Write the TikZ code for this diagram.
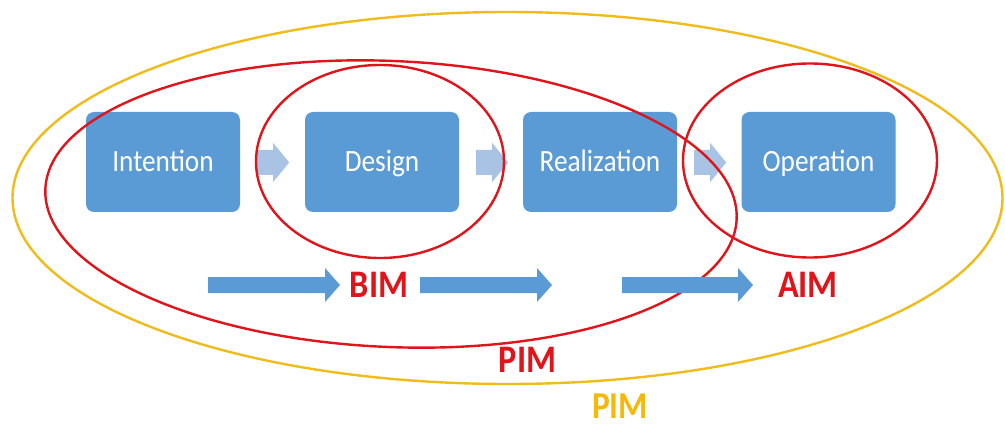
\documentclass[tikz,border=0pt]{standalone}
\usepackage{fontspec}
\usetikzlibrary{calc}
\newfontfamily\boxfont[FakeStretch=0.88]{Carlito}
\definecolor{boxblue}{HTML}{5B9BD5}
\definecolor{lightblue}{HTML}{A9C3E4}
\definecolor{pimred}{HTML}{E0141B}
\definecolor{pimyellow}{HTML}{F0BC1C}
\definecolor{txtyellow}{HTML}{F5B90A}
\newcommand\blkarrow[6]{% style, start, length, shaft half, head half, head length
  \fill[#1] ($#2+(0,-#4)$) -- ++(#3-#6,0) -- ++(0,#4-#5) -- ($#2+(#3,0)$)
    -- ($#2+(#3-#6,#5)$) -- ++(0,#4-#5) -- ($#2+(0,#4)$) -- cycle;}
\tikzset{
  stage/.style={rounded corners=8pt, fill=boxblue,
    minimum width=154pt, minimum height=100pt, inner sep=0pt},
  stagetext/.style={text=white, inner sep=0pt, anchor=base,
    font=\boxfont\fontsize{31}{31}\selectfont},
  lightarr/.style={fill=lightblue},
  bluearr/.style={fill=boxblue},
  redring/.style={draw=pimred, line width=2.4pt},
  yellowring/.style={draw=pimyellow, line width=2.4pt},
  lbl/.style={font=\boxfont\bfseries\fontsize{39}{39}\selectfont, inner sep=0pt, anchor=base}
}
\begin{document}
\begin{tikzpicture}[x=1pt,y=-1pt]
\useasboundingbox[fill=white] (0,0) rectangle (1005,425);
% stage boxes
\node[stage] (int) at (163,162) {};
\node[stage] (des) at (382,162) {};
\node[stage] (rea) at (600,162) {};
\node[stage] (ope) at (818.5,162) {};
\node[stagetext] (intt) at ($(int.center)+(0,10)$) {Intention};
\node[stagetext] (dest) at ($(des.center)+(0,10)$) {Design};
\node[stagetext] (reat) at ($(rea.center)+(0,10)$) {Realization};
\node[stagetext] (opet) at ($(ope.center)+(0,10)$) {Operation};
% light arrows between stages
\coordinate (la1) at ($(int.east)+(17,0.5)$);
\coordinate (la2) at ($(des.east)+(17,0.5)$);
\coordinate (la3) at ($(rea.east)+(17,0.5)$);
\blkarrow{lightarr}{(la1)}{32}{12.5}{19.5}{16}
\blkarrow{lightarr}{(la2)}{32}{12.5}{19.5}{16}
\blkarrow{lightarr}{(la3)}{32}{12.5}{19.5}{16}
% ellipses
\draw[yellowring] (507.5,198) ellipse [x radius=495, y radius=186];
\draw[redring, rotate around={-2.5:(391,204)}] (391,204) ellipse [x radius=346, y radius=143];
\draw[redring] (380,161.5) ellipse [x radius=124, y radius=96.5];
\draw[redring] (810,160.5) ellipse [x radius=127, y radius=97];
% bottom arrows
\coordinate (ba1) at (208,285);
\coordinate (ba2) at (420,285);
\coordinate (ba3) at (622,285);
\blkarrow{bluearr}{(ba1)}{132}{8}{17}{15}
\blkarrow{bluearr}{(ba2)}{132}{8}{17}{15}
\blkarrow{bluearr}{(ba3)}{131}{8}{17}{15}
% labels
\node[lbl, text=pimred] (bim) at (379,298) {BIM};
\node[lbl, text=pimred] (aim) at (808,297) {AIM};
\node[lbl, text=pimred] (pimr) at (527.5,372) {PIM};
\node[lbl, text=txtyellow, font=\boxfont\bfseries\fontsize{38}{38}\selectfont] (pimy) at (620,418) {PIM};
\end{tikzpicture}
\end{document}
